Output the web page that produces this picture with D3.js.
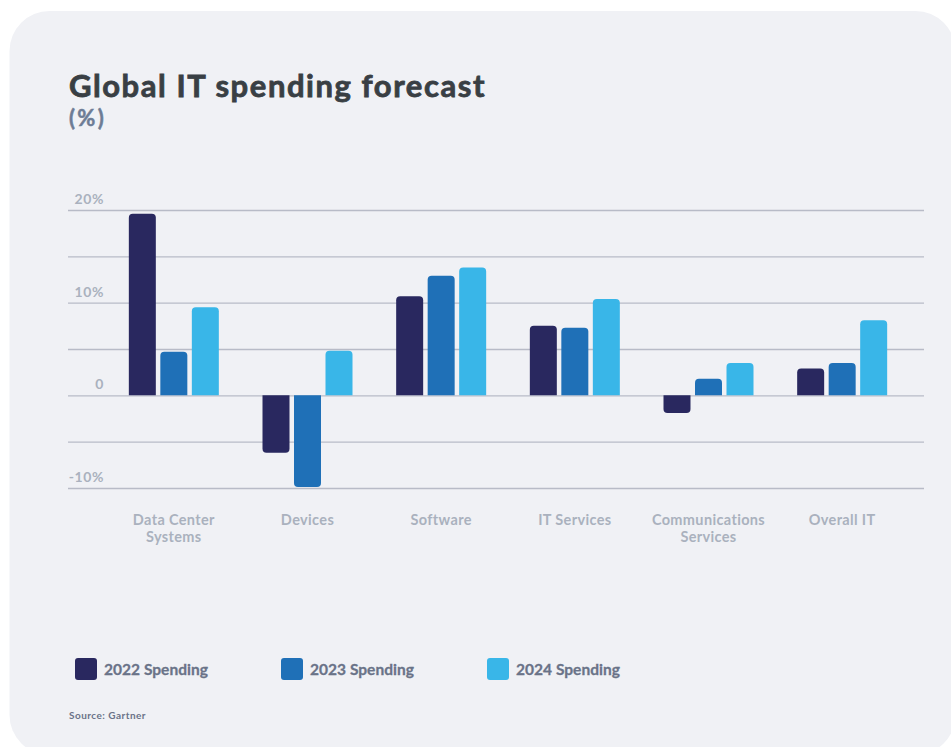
<!DOCTYPE html>
<html>
<head>
<meta charset="utf-8">
<script src="https://cdn.jsdelivr.net/npm/d3@7"></script>
<style>
  html, body { margin: 0; padding: 0; background: #ffffff; }
  svg { display: block; }
  text { font-family: Lato, "Open Sans", sans-serif; font-weight: 700; }
</style>
</head>
<body>
<svg id="chart" width="951" height="747"></svg>
<script>
// Growth rates in %, by category and year
const categories = ["Data Center Systems", "Devices", "Software", "IT Services", "Communications Services", "Overall IT"];
const categoryLines = [["Data Center", "Systems"], ["Devices"], ["Software"], ["IT Services"], ["Communications", "Services"], ["Overall IT"]];
const seriesNames = ["2022 Spending", "2023 Spending", "2024 Spending"];
const spending2022 = [19.6, -6.2, 10.7, 7.5, -1.9, 2.9];
const spending2023 = [4.7, -9.9, 12.9, 7.3, 1.8, 3.5];
const spending2024 = [9.5, 4.8, 13.8, 10.4, 3.5, 8.1];
const gridTicks = [-10, -5, 0, 5, 10, 15, 20];
const labelTicks = [20, 10, 0, -10];
const tickLabels = ["20%", "10%", "0", "-10%"];

const seriesValues = [spending2022, spending2023, spending2024];
const colors = ["#29285f", "#1f70b7", "#39b6e8"];

const svg = d3.select("#chart");

// spread a text's letters so that it spans the given width
function spreadTo(node, width) {
  const len = node.getComputedTextLength();
  const n = node.textContent.length;
  if (n > 1) d3.select(node).attr("letter-spacing", (width - len) / n);
}

// card background
svg.append("rect")
  .attr("x", 9.5).attr("y", 11)
  .attr("width", 946).attr("height", 744)
  .attr("rx", 40).attr("ry", 40)
  .attr("fill", "#f0f1f5");

// title, with a thin outline for extra weight
const title = svg.append("text")
  .attr("x", 69).attr("y", 97)
  .attr("font-size", 31)
  .attr("fill", "#393f44")
  .attr("stroke", "#393f44")
  .attr("stroke-width", 0.8)
  .text("Global IT spending forecast");
spreadTo(title.node(), 417);
const unit = svg.append("text")
  .attr("x", 69).attr("y", 126)
  .attr("font-size", 22)
  .attr("fill", "#6d7c95")
  .attr("stroke", "#6d7c95")
  .attr("stroke-width", 0.5)
  .text("(%)");
spreadTo(unit.node(), 37);

// scales
const y = d3.scaleLinear().domain([-10, 20]).range([488, 210]);
const x = d3.scaleBand().domain(categories).range([107, 909]).padding(0);
const xs = d3.scaleBand().domain(seriesNames).range([0, 90]).paddingInner(0.143);

// gridlines
const grid = svg.append("g")
  .attr("transform", "translate(68,0)")
  .call(d3.axisLeft(y).tickValues(gridTicks).tickSize(-(924 - 68)).tickFormat(""));
grid.select(".domain").remove();
grid.selectAll(".tick line").attr("stroke", "#b8bbc7").attr("stroke-width", 1.3);

// y labels sit just above their gridline
svg.append("g").selectAll("text")
  .data(labelTicks)
  .join("text")
  .attr("x", 104)
  .attr("y", d => y(d) - 6)
  .attr("text-anchor", "end")
  .attr("font-size", 14)
  .attr("letter-spacing", 0.6)
  .attr("fill", "#aab1be")
  .text((d, i) => tickLabels[i]);

// bar with rounded corners at its value end
function barPath(x0, w, v) {
  const y0 = y(0), y1 = y(v);
  const h = Math.abs(y1 - y0);
  const r = Math.min(4, h / 2, w / 2);
  if (v >= 0) {
    return `M${x0},${y0} V${y1 + r} Q${x0},${y1} ${x0 + r},${y1} H${x0 + w - r} Q${x0 + w},${y1} ${x0 + w},${y1 + r} V${y0} Z`;
  }
  return `M${x0},${y0} V${y1 - r} Q${x0},${y1} ${x0 + r},${y1} H${x0 + w - r} Q${x0 + w},${y1} ${x0 + w},${y1 - r} V${y0} Z`;
}

const bars = [];
categories.forEach((c, ci) => {
  seriesNames.forEach((s, si) => {
    bars.push({ c, s, si, v: seriesValues[si][ci] });
  });
});

svg.append("g").selectAll("path")
  .data(bars)
  .join("path")
  .attr("d", d => {
    const gx = x(d.c) + x.bandwidth() / 2 - 45;
    return barPath(gx + xs(d.s), xs.bandwidth(), d.v);
  })
  .attr("fill", d => colors[d.si]);

// category labels, one text per line
const catLines = [];
categories.forEach((c, ci) => {
  categoryLines[ci].forEach((line, li) => catLines.push({ c, line, li }));
});
svg.append("g").selectAll("text")
  .data(catLines)
  .join("text")
  .attr("x", d => x(d.c) + x.bandwidth() / 2)
  .attr("y", d => 525 + d.li * 17)
  .attr("text-anchor", "middle")
  .attr("font-size", 14.5)
  .attr("letter-spacing", 0.35)
  .attr("fill", "#aab1be")
  .text(d => d.line);

// legend
const legend = svg.append("g").selectAll("g")
  .data(seriesNames)
  .join("g")
  .attr("transform", (d, i) => `translate(${75 + i * 206},658)`);
legend.append("rect")
  .attr("width", 22).attr("height", 22)
  .attr("rx", 3)
  .attr("fill", (d, i) => colors[i]);
legend.append("text")
  .attr("x", 29).attr("y", 16.5)
  .attr("font-size", 15.5)
  .attr("fill", "#6a7388")
  .attr("stroke", "#6a7388")
  .attr("stroke-width", 0.3)
  .text(d => d)
  .each(function () { spreadTo(this, 104); });

// source note
const source = svg.append("text")
  .attr("x", 69).attr("y", 719)
  .attr("font-size", 10)
  .attr("fill", "#6a7388")
  .text("Source: Gartner");
spreadTo(source.node(), 77);
</script>
</body>
</html>
